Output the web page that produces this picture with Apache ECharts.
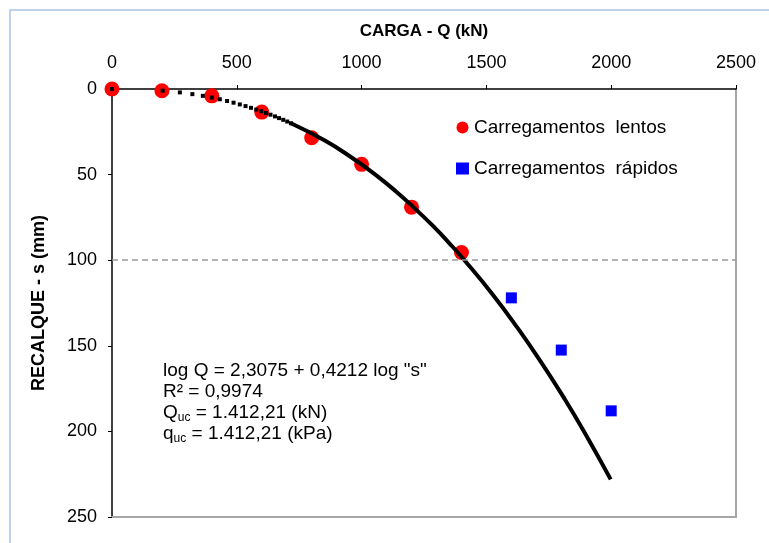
<!DOCTYPE html>
<html>
<head>
<meta charset="utf-8">
<script src="https://cdn.jsdelivr.net/npm/echarts@6/dist/echarts.min.js"></script>
<style>
html,body{margin:0;padding:0;background:#fff;}
#chart{width:769px;height:543px;}
</style>
</head>
<body>
<div id="chart"></div>
<script>
// Carregamentos lentos (slow loading) : Q (kN), s (mm)
const cargaLentos = [0, 200, 400, 600, 800, 1000, 1200, 1400];
const recalqueLentos = [0, 1, 4, 13.5, 28.5, 44, 69, 95.5];
// Carregamentos rápidos (fast loading)
const cargaRapidos = [1600, 1800, 2000];
const recalqueRapidos = [122, 152.5, 188];
// Fitted curve, sparse dotted part
const cargaCurvaPontos = [0, 203, 272, 322, 364, 400, 432, 461, 487, 512, 535, 557, 578, 598, 617, 635, 653, 669, 686, 702, 717];
const recalqueCurvaPontos = [0, 1, 2, 3, 4, 5, 6, 7, 8, 9, 10, 11, 12, 13, 14, 15, 16, 17, 18, 19, 20];
// Fitted curve, continuous part
const cargaCurva = [717, 851, 960, 1055, 1139, 1215, 1286, 1351, 1412, 1525, 1627, 1721, 1809, 1891, 1998];
const recalqueCurva = [20, 30, 40, 50, 60, 70, 80, 90, 100, 120, 140, 160, 180, 200, 228];
// Axis ticks
const xTicks = [0, 500, 1000, 1500, 2000, 2500];
const yTicks = [0, 50, 100, 150, 200, 250];
const recalqueReferencia = 100;

const zip = (a, b) => a.map((v, i) => [v, b[i]]);
const F = 'Liberation Sans, Arial, sans-serif';

const chart = echarts.init(document.getElementById('chart'));
chart.setOption({
  animation: false,
  backgroundColor: '#fff',
  grid: { left: 112, top: 89, right: 33, bottom: 26 },
  xAxis: [{
    type: 'value', position: 'top',
    min: xTicks[0], max: xTicks[xTicks.length - 1], interval: xTicks[1] - xTicks[0],
    name: 'CARGA - Q (kN)', nameLocation: 'middle', nameGap: 49,
    nameTextStyle: { fontFamily: F, fontSize: 17, fontWeight: 'bold', color: '#000' },
    axisLine: { show: true, onZero: false, lineStyle: { color: '#000', width: 1.5 } },
    axisTick: { show: true, inside: false, length: 4, lineStyle: { color: '#000' } },
    axisLabel: { fontFamily: F, fontSize: 18, color: '#000', margin: 17, formatter: v => String(v) },
    splitLine: { show: false }
  }, {
    type: 'value', position: 'bottom', min: 0, max: 2500,
    axisLine: { show: true, onZero: false, lineStyle: { color: '#a6a6a6', width: 2 } },
    axisTick: { show: false }, axisLabel: { show: false }, splitLine: { show: false }
  }],
  yAxis: [{
    type: 'value', inverse: true,
    min: yTicks[0], max: yTicks[yTicks.length - 1], interval: yTicks[1] - yTicks[0],
    name: 'RECALQUE - s (mm)', nameLocation: 'middle', nameGap: 64, nameRotate: 90,
    nameTextStyle: { fontFamily: F, fontSize: 18, fontWeight: 'bold', color: '#000' },
    axisLine: { show: true, onZero: false, lineStyle: { color: '#000', width: 1.5 } },
    axisTick: { show: true, inside: false, length: 4, lineStyle: { color: '#000' } },
    axisLabel: { fontFamily: F, fontSize: 18, color: '#000', margin: 15, formatter: v => String(v) },
    splitLine: { show: false }
  }, {
    type: 'value', position: 'right', inverse: true, min: 0, max: 250,
    axisLine: { show: true, onZero: false, lineStyle: { color: '#a6a6a6', width: 2 } },
    axisTick: { show: false }, axisLabel: { show: false }, splitLine: { show: false }
  }],
  legend: {
    data: [
      { name: 'Carregamentos  lentos', icon: 'circle' },
      { name: 'Carregamentos  rápidos', icon: 'rect' }
    ],
    orient: 'vertical', left: 451, top: 113,
    itemWidth: 13, itemHeight: 12, itemGap: 22,
    textStyle: { fontFamily: F, fontSize: 19, color: '#000' }
  },
  series: [
    {
      name: 'Carregamentos  lentos', type: 'scatter',
      data: zip(cargaLentos, recalqueLentos),
      symbol: 'circle', symbolSize: 15,
      itemStyle: { color: '#ff0000', opacity: 1 }, z: 2,
      markLine: {
        silent: true, symbol: 'none', label: { show: false },
        lineStyle: { color: '#999', type: [6, 4], width: 1.5 },
        data: [{ yAxis: recalqueReferencia }]
      }
    },
    {
      name: 'Carregamentos  rápidos', type: 'scatter',
      data: zip(cargaRapidos, recalqueRapidos),
      symbol: 'rect', symbolSize: 11,
      itemStyle: { color: '#0000ff', opacity: 1 }, z: 2
    },
    {
      name: 'curva', type: 'line',
      data: zip(cargaCurva, recalqueCurva),
      smooth: true, showSymbol: false, symbol: 'none',
      lineStyle: { color: '#000', width: 4 }, z: 3
    },
    {
      name: 'curvaPontos', type: 'scatter',
      data: zip(cargaCurvaPontos, recalqueCurvaPontos),
      symbol: 'rect', symbolSize: 4,
      itemStyle: { color: '#000', opacity: 1 }, z: 4
    }
  ],
  graphic: [
    { type: 'rect', shape: { x: 10, y: 10, width: 800, height: 600 },
      style: { fill: 'none', stroke: '#a9c3e6', lineWidth: 1.5 }, z: -1 },
    { type: 'text', left: 163, top: 361, style: {
      text: 'log Q = 2,3075 + 0,4212 log "s"', font: '19px ' + F, fill: '#000' } },
    { type: 'text', left: 163, top: 382, style: {
      text: 'R² = 0,9974', font: '19px ' + F, fill: '#000' } },
    { type: 'text', left: 163, top: 403, style: {
      text: '{a|Q}{s|uc}{a| = 1.412,21 (kN)}',
      rich: { a: { fontFamily: F, fontSize: 19, fill: '#000', verticalAlign: 'bottom' },
              s: { fontFamily: F, fontSize: 12, fill: '#000', verticalAlign: 'bottom', padding: [0, 0, -2, 0] } } } },
    { type: 'text', left: 163, top: 424, style: {
      text: '{a|q}{s|uc}{a| = 1.412,21 (kPa)}',
      rich: { a: { fontFamily: F, fontSize: 19, fill: '#000', verticalAlign: 'bottom' },
              s: { fontFamily: F, fontSize: 12, fill: '#000', verticalAlign: 'bottom', padding: [0, 0, -2, 0] } } } }
  ]
});
</script>
</body>
</html>
